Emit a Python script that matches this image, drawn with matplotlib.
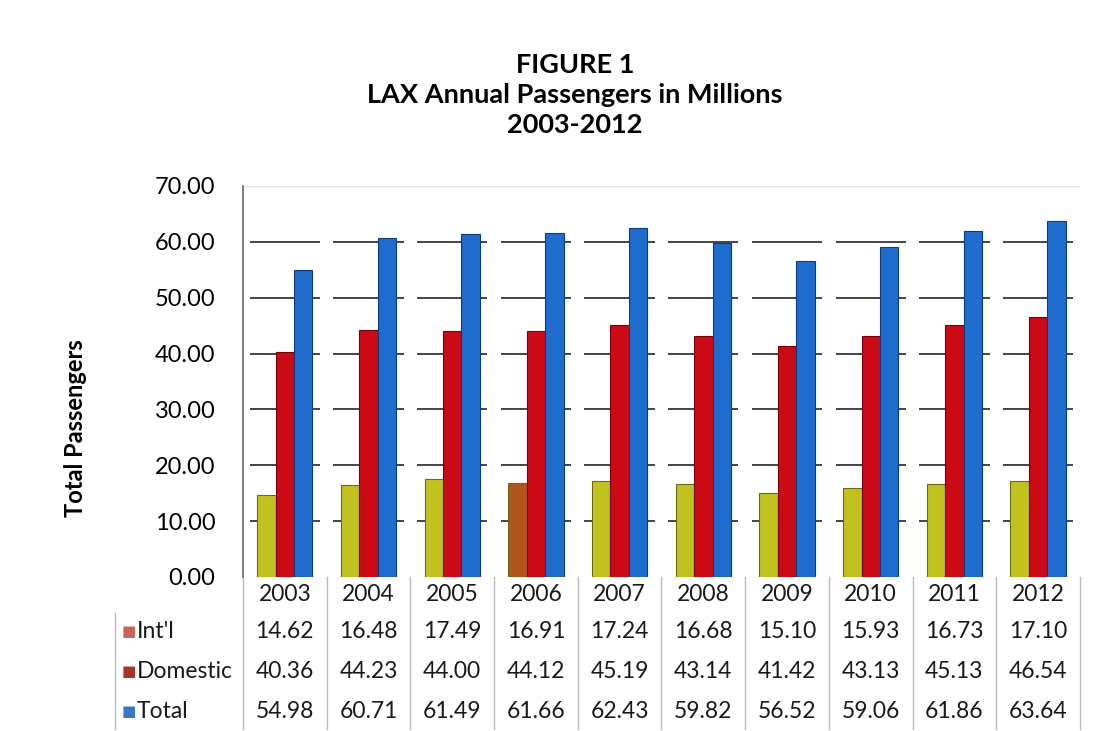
import matplotlib
matplotlib.use("Agg")
import matplotlib.pyplot as plt
import numpy as np

years = ["2003", "2004", "2005", "2006", "2007", "2008", "2009", "2010", "2011", "2012"]
intl = [14.62, 16.48, 17.49, 16.91, 17.24, 16.68, 15.10, 15.93, 16.73, 17.10]
domestic = [40.36, 44.23, 44.00, 44.12, 45.19, 43.14, 41.42, 43.13, 45.13, 46.54]
total = [54.98, 60.71, 61.49, 61.66, 62.43, 59.82, 56.52, 59.06, 61.86, 63.64]
series_names = ["Int'l", "Domestic", "Total"]
yticks = [0, 10, 20, 30, 40, 50, 60, 70]

c_intl = "#c2c21e"
c_dom = "#cc0a16"
c_tot = "#1f6ccf"
c_patch = "#b0561b"
key_colors = ["#c8665c", "#a8342a", "#3a78c4"]

plt.rcParams['font.family'] = ['Lato', 'DejaVu Sans']

fig = plt.figure(figsize=(11.02, 7.31), dpi=100)
ax = fig.add_axes([0.2205, 0.2107, 0.7595, 0.7456 - 0.2107])

n = len(years)
x = np.arange(n)
w = 0.22

intl_colors = [c_intl] * n
intl_colors[3] = c_patch  # scanned blot over 2006 bar
ax.bar(x - w, intl, w, color=intl_colors, edgecolor="#6b6a10", linewidth=0.8, zorder=3)
ax.bar(x, domestic, w, color=c_dom, edgecolor="#7a0008", linewidth=0.8, zorder=3)
ax.bar(x + w, total, w, color=c_tot, edgecolor="#0d3a80", linewidth=0.8, zorder=3)

ax.set_xlim(-0.5, n - 0.5)
ax.set_ylim(0, 70)
ax.set_yticks(yticks)
ax.set_yticklabels([f"{v:.2f}" for v in yticks], fontsize=17)
ax.tick_params(axis='y', length=0, pad=20)
ax.set_xticks([])

# broken gridlines per category
for v in yticks[1:-1]:
    ax.hlines([v] * n, x - 0.42, x + 0.42, color="#444444", linewidth=1.4, zorder=1)
ax.hlines(70, -0.5, n - 0.5, color="#dddddd", linewidth=1.0, zorder=1)

for s in ["top", "right", "bottom"]:
    ax.spines[s].set_visible(False)
ax.spines["left"].set_color("#666666")
ax.spines["left"].set_linewidth(1.2)

ax.set_ylabel("Total Passengers", fontsize=17, fontweight="bold")
ax.yaxis.set_label_coords(-0.186, 0.38)

# data table
rows = [years,
        [f"{v:.2f}" for v in intl],
        [f"{v:.2f}" for v in domestic],
        [f"{v:.2f}" for v in total]]
row_centers = [-0.045, -0.14, -0.243, -0.343]
for r, (vals, yc) in enumerate(zip(rows, row_centers)):
    for i, t in enumerate(vals):
        ax.text(x[i], yc * 70, t, ha="center", va="center", fontsize=16.5,
                color="#1a1a1a", clip_on=False, transform=ax.transData)

# vertical dividers of the table
for i in range(n + 1):
    ax.plot([i - 0.5, i - 0.5], [0, -0.39 * 70], color="#bbbbbb", linewidth=1.0,
            clip_on=False, zorder=0)
ax.plot([-2.03, -2.03], [-0.092 * 70, -0.39 * 70], color="#bbbbbb", linewidth=1.0,
        clip_on=False)

# row labels with keys
for name, col, yc in zip(series_names, key_colors, row_centers[1:]):
    ax.text(-1.87, yc * 70, "■", ha="center", va="center", fontsize=11, color=col,
            clip_on=False, family=['DejaVu Sans'])
    ax.text(-1.77, yc * 70, name, ha="left", va="center", fontsize=16.5,
            color="#1a1a1a", clip_on=False)

fig.text(0.522, 0.870, "FIGURE 1\nLAX Annual Passengers in Millions\n2003-2012",
         ha="center", va="center", fontsize=19.5, fontweight="bold", linespacing=1.3)

fig.savefig("out.png", dpi=100)
